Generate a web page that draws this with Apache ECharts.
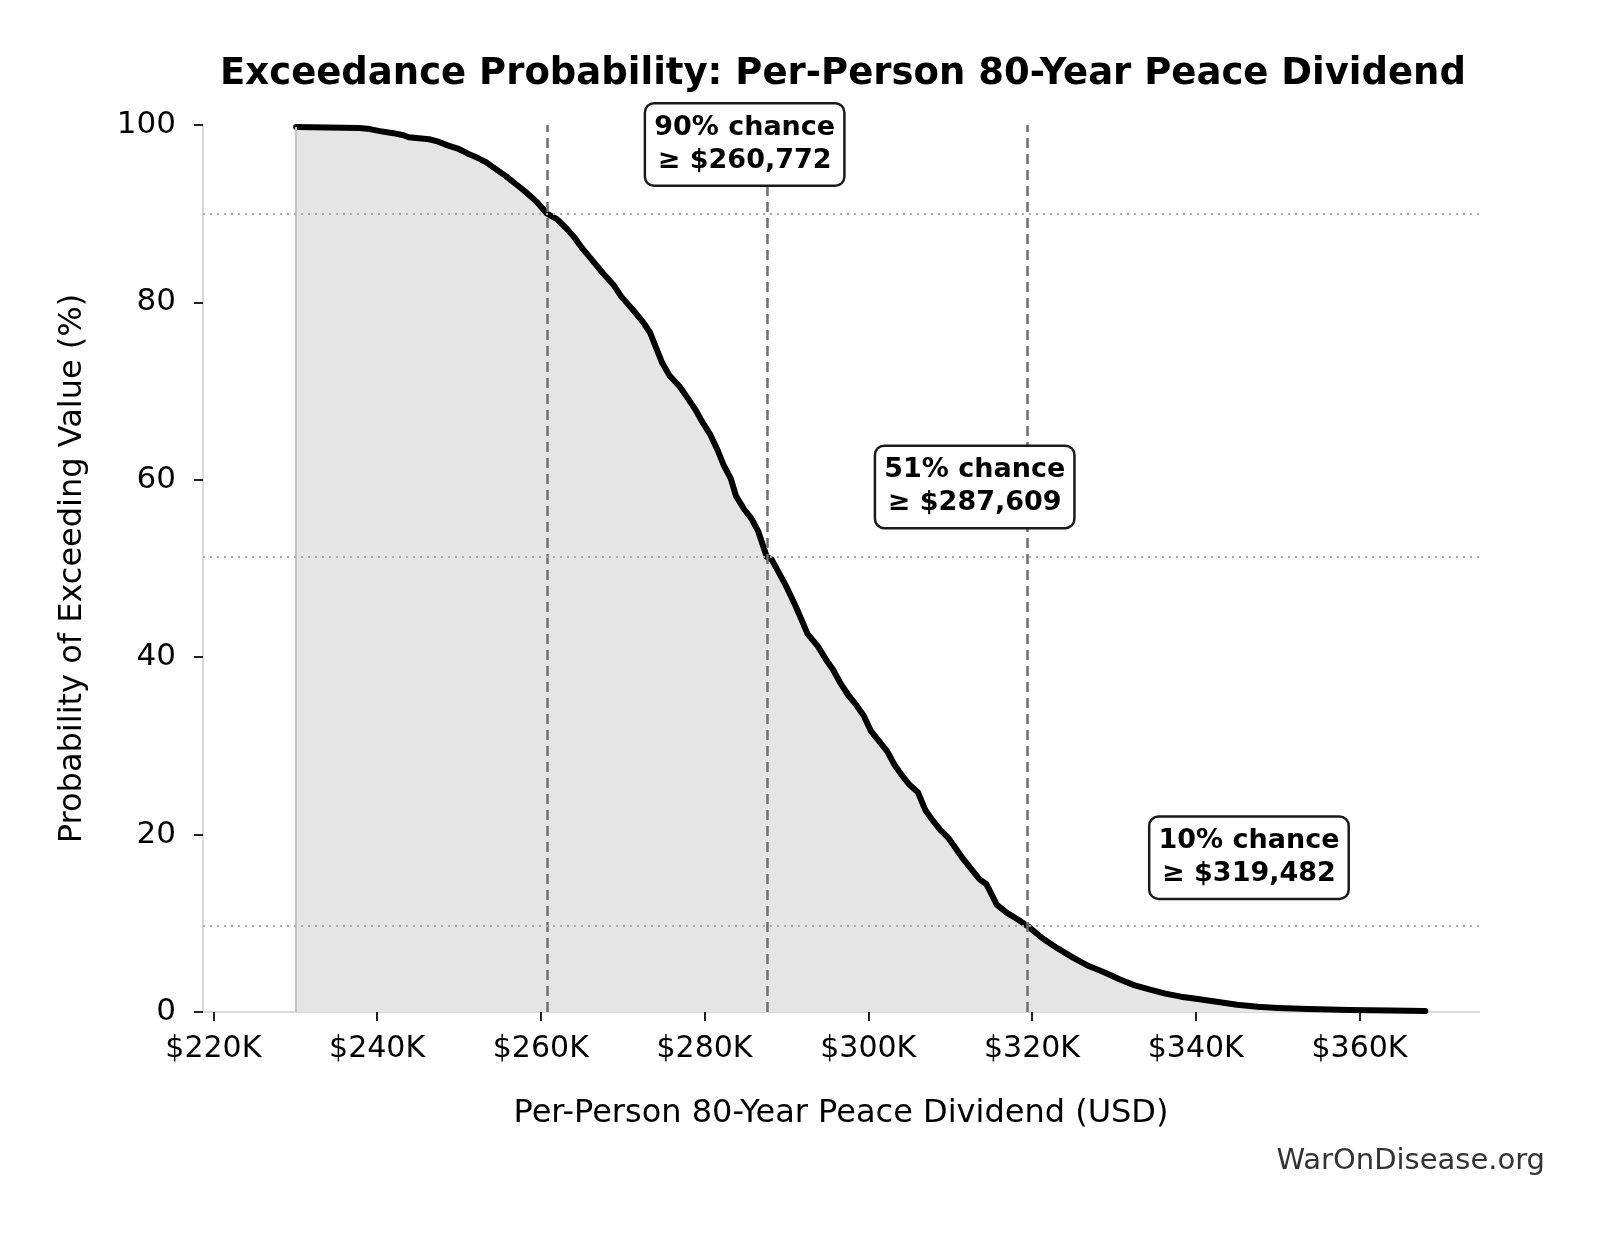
<!DOCTYPE html>
<html>
<head>
<meta charset="utf-8">
<title>Exceedance Probability</title>
<script src="https://cdn.jsdelivr.net/npm/echarts@6/dist/echarts.min.js"></script>
<style>
  html, body { margin: 0; padding: 0; background: #fff; }
  #chart { width: 1603px; height: 1233px; }
</style>
</head>
<body>
<div id="chart"></div>
<script>
// dividend per person, thousands of USD
var dividendK = [
  230.12, 237.86, 239.11, 240.36, 241.99, 243.24, 243.86, 245.11, 246.36, 247.36,
  248.61, 249.86, 251.11, 251.98, 253.23, 254.48, 255.73, 256.98, 258.23, 259.48,
  260.77, 261.97, 263.22, 264.10, 265.10, 266.35, 267.60, 268.84, 269.84, 270.72,
  271.59, 272.59, 273.34, 274.09, 274.84, 275.72, 276.96, 277.84, 278.84, 279.84,
  280.71, 281.59, 282.34, 283.21, 283.84, 284.84, 285.71, 286.58, 287.61, 288.21,
  289.08, 290.08, 291.08, 291.95, 292.58, 293.83, 294.83, 295.70, 296.58, 297.57,
  298.57, 299.45, 300.32, 301.32, 302.32, 303.20, 304.07, 305.07, 306.07, 306.95,
  307.82, 308.82, 309.82, 310.69, 311.57, 312.57, 313.57, 314.44, 315.07, 315.69,
  316.94, 318.19, 319.48, 321.31, 323.19, 325.06, 326.93, 328.81, 330.68, 332.55,
  334.43, 336.30, 338.18, 340.05, 342.55, 345.05, 347.55, 350.04, 353.79, 358.79,
  363.79, 368.03
];
// probability of exceeding, %
var exceedPct = [
  99.77, 99.65, 99.54, 99.31, 99.08, 98.85, 98.62, 98.50, 98.39, 98.16,
  97.70, 97.35, 96.77, 96.43, 95.85, 95.05, 94.24, 93.32, 92.40, 91.36,
  90.00, 89.40, 88.25, 87.33, 86.06, 84.68, 83.29, 82.03, 80.65, 79.72,
  78.80, 77.65, 76.61, 74.88, 73.16, 71.77, 70.51, 69.35, 67.97, 66.36,
  65.09, 63.36, 61.64, 60.14, 58.18, 56.68, 55.65, 54.15, 51.30, 51.00,
  49.54, 47.81, 45.85, 44.01, 42.63, 41.24, 39.75, 38.59, 37.10, 35.71,
  34.56, 33.41, 31.68, 30.53, 29.38, 27.88, 26.73, 25.58, 24.77, 22.81,
  21.66, 20.51, 19.59, 18.43, 17.28, 16.13, 14.98, 14.40, 13.25, 12.10,
  11.18, 10.48, 9.68, 8.29, 7.14, 6.11, 5.18, 4.49, 3.69, 3.00,
  2.53, 2.07, 1.73, 1.50, 1.15, 0.81, 0.58, 0.46, 0.35, 0.23,
  0.17, 0.10
];
var xTicks = [220, 240, 260, 280, 300, 320, 340, 360];
var yTicks = [0, 20, 40, 60, 80, 100];
// marked percentiles
var markValues = [260.772, 287.609, 319.482];
var markProbs = [90, 51.3, 9.68];
var markLabels = ['90% chance\n≥ $260,772', '51% chance\n≥ $287,609', '10% chance\n≥ $319,482'];
var labelAnchorX = [284.9, 313.0, 346.5];
var labelAnchorY = [97.8, 59.2, 17.4];

var FONT = 'DejaVu Sans';
var chart = echarts.init(document.getElementById('chart'));

var curve = dividendK.map(function (v, i) { return [v, exceedPct[i]]; });
var notes = markLabels.map(function (t, i) {
  return { value: [labelAnchorX[i], labelAnchorY[i]], label: { formatter: t } };
});

var option = {
  animation: false,
  backgroundColor: '#fff',
  title: {
    text: 'Exceedance Probability: Per-Person 80-Year Peace Dividend',
    left: 838,
    textAlign: 'center',
    top: 51,
    textStyle: { fontFamily: FONT, fontSize: 37, fontWeight: 'bold', color: '#000' }
  },
  grid: { left: 203, right: 124, top: 125, bottom: 221, containLabel: false },
  xAxis: {
    type: 'value',
    min: 218.74,
    max: 374.6,
    name: 'Per-Person 80-Year Peace Dividend (USD)',
    nameLocation: 'middle',
    nameGap: 86,
    nameTextStyle: { fontFamily: FONT, fontSize: 32, color: '#000' },
    axisLine: { show: true, lineStyle: { color: '#d9d9d9', width: 2 } },
    axisTick: { show: true, customValues: xTicks, length: 9, lineStyle: { color: '#222', width: 2 } },
    axisLabel: {
      customValues: xTicks,
      margin: 22,
      fontFamily: FONT,
      fontSize: 30,
      color: '#000',
      formatter: function (v) { return '$' + v + 'K'; }
    },
    splitLine: { show: false }
  },
  yAxis: {
    type: 'value',
    min: 0,
    max: 100,
    interval: 20,
    name: 'Probability of Exceeding Value (%)',
    nameLocation: 'middle',
    nameGap: 114,
    nameTextStyle: { fontFamily: FONT, fontSize: 32, color: '#000' },
    axisLine: { show: true, lineStyle: { color: '#d9d9d9', width: 2 } },
    axisTick: { show: true, length: 9, lineStyle: { color: '#222', width: 2 } },
    axisLabel: {
      customValues: yTicks,
      margin: 27,
      fontFamily: FONT,
      fontSize: 31,
      color: '#000'
    },
    splitLine: { show: false }
  },
  series: [
    {
      type: 'line',
      data: curve,
      showSymbol: false,
      silent: true,
      z: 3,
      lineStyle: { color: '#000', width: 6, join: 'round', cap: 'round' },
      areaStyle: { color: '#e5e5e5', opacity: 1, origin: 'start' },
      markLine: {
        silent: true,
        symbol: 'none',
        label: { show: false },
        data: [
          // left edge of the shaded area
          [{ coord: [dividendK[0], 0], lineStyle: { color: '#c4c4c4', width: 2, type: 'solid' } },
           { coord: [dividendK[0], exceedPct[0]] }]
        ]
      }
    },
    {
      // reference lines
      type: 'line',
      data: [],
      silent: true,
      z: 2,
      markLine: {
        silent: true,
        symbol: 'none',
        label: { show: false },
        data: markValues.map(function (v) {
          return { xAxis: v, lineStyle: { color: '#707070', width: 2.5, type: [10, 6] } };
        }).concat(markProbs.map(function (p) {
          return { yAxis: p, lineStyle: { color: '#aaaaaa', width: 2, type: [2, 5] } };
        }))
      }
    },
    {
      type: 'scatter',
      data: notes,
      symbolSize: 0,
      silent: true,
      z: 10,
      itemStyle: { opacity: 1 },
      label: {
        show: true,
        position: 'inside',
        fontFamily: FONT,
        fontSize: 27,
        fontWeight: 'bold',
        color: '#000',
        opacity: 1,
        lineHeight: 33,
        backgroundColor: '#fff',
        borderColor: '#1a1a1a',
        borderWidth: 2.5,
        borderRadius: 8,
        padding: [8, 8, 6, 8]
      }
    }
  ],
  graphic: [
    {
      type: 'text',
      right: 58,
      top: 1147,
      style: { text: 'WarOnDisease.org', fontFamily: FONT, fontSize: 29, fill: '#333' }
    }
  ]
};

chart.setOption(option);
</script>
</body>
</html>
